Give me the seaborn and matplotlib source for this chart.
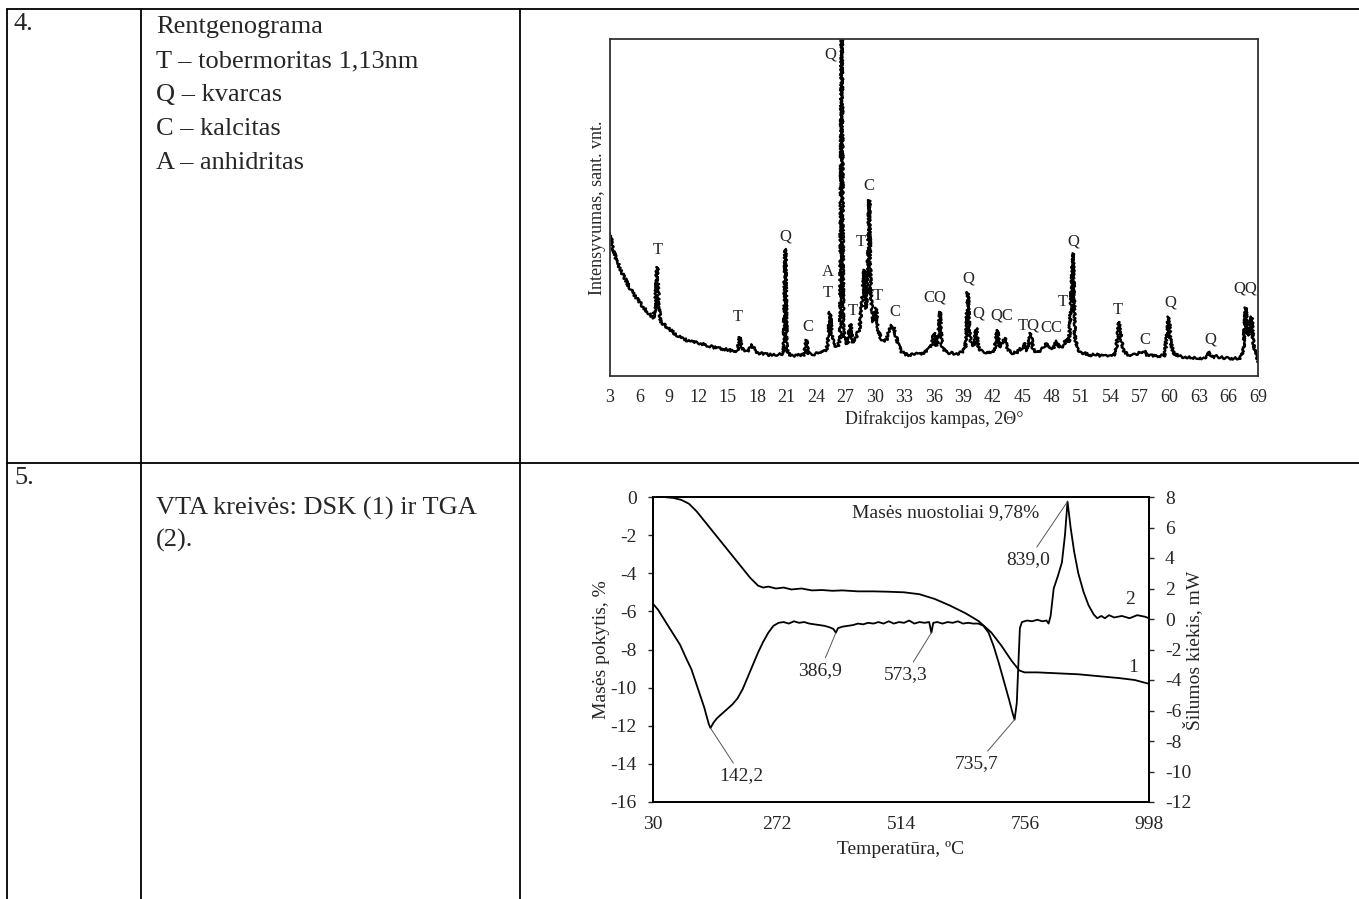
import matplotlib
matplotlib.use("Agg")
import matplotlib.pyplot as plt
import seaborn as sns
from matplotlib.lines import Line2D

sns.set_theme(style="white")
plt.rcParams["font.family"] = ["Liberation Serif", "DejaVu Serif"]
plt.rcParams["axes.unicode_minus"] = False

# ---- XRD pattern (2theta, relative intensity 0..1000 = frame height) ----
xrd_angle = [3.0, 3.3, 3.6, 4.0, 4.5, 5.0, 5.5, 6.0, 6.5, 7.0, 7.4, 7.6, 7.8, 8.0, 8.2, 8.6,
             9.0, 9.5, 10.0, 10.5, 11.0, 11.5, 12.0, 12.5, 13.0, 13.5, 14.0, 14.5, 15.0, 15.5,
             16.0, 16.2, 16.4, 17.0, 17.5, 17.8, 18.5, 19.0, 19.5, 20.0, 20.5, 20.7, 20.85,
             21.0, 21.3, 21.8, 22.3, 22.8, 23.0, 23.2, 23.6, 24.0, 24.5, 25.0, 25.2, 25.4,
             25.6, 25.8, 26.2, 26.45, 26.6, 26.75, 26.9, 27.2, 27.5, 27.7, 28.0, 28.4, 28.7,
             28.9, 29.1, 29.25, 29.4, 29.55, 29.8, 30.1, 30.3, 30.6, 30.9, 31.2, 31.5, 31.7,
             31.9, 32.2, 32.6, 33.0, 33.5, 34.0, 34.5, 35.0, 35.5, 35.8, 36.0, 36.2, 36.4,
             36.6, 36.8, 37.2, 37.8, 38.3, 38.8, 39.2, 39.45, 39.6, 39.8, 40.1, 40.3, 40.5,
             40.9, 41.4, 41.9, 42.2, 42.45, 42.7, 42.95, 43.2, 43.5, 44.0, 44.5, 45.0, 45.25,
             45.5, 45.85, 46.1, 46.5, 47.0, 47.4, 47.7, 48.1, 48.5, 48.8, 49.2, 49.5, 49.75,
             49.95, 50.15, 50.35, 50.6, 51.0, 51.5, 52.0, 52.5, 53.0, 53.5, 54.0, 54.5, 54.85,
             55.1, 55.4, 56.0, 56.6, 57.0, 57.4, 57.7, 58.2, 58.8, 59.5, 59.9, 60.1, 60.4,
             61.0, 61.6, 62.2, 62.8, 63.4, 63.9, 64.05, 64.3, 64.8, 65.4, 66.0, 66.6, 67.2,
             67.5, 67.75, 67.95, 68.1, 68.35, 68.55, 68.8, 69.0]
xrd_intensity = [424, 380, 350, 320, 290, 262, 240, 220, 200, 185, 172, 200, 323, 200, 160, 150,
                 140, 128, 118, 110, 104, 100, 98, 95, 90, 86, 82, 80, 78, 74,
                 76, 115, 82, 72, 92, 70, 66, 64, 62, 63, 66, 75, 377,
                 80, 62, 60, 62, 64, 107, 66, 64, 66, 68, 75, 100, 190,
                 120, 90, 88, 110, 1100, 150, 100, 95, 154, 100, 110, 140, 230,
                 315, 200, 300, 522, 250, 160, 202, 140, 110, 100, 110, 140, 150,
                 145, 110, 75, 65, 62, 66, 64, 68, 80, 95, 128, 90, 100,
                 190, 90, 70, 68, 66, 70, 85, 249, 130, 95, 90, 142, 85,
                 72, 70, 68, 85, 136, 85, 95, 113, 80, 68, 72, 85, 98,
                 75, 127, 78, 70, 80, 98, 85, 80, 104, 85, 90, 112, 100,
                 210, 364, 120, 80, 70, 66, 62, 64, 60, 62, 60, 64, 160,
                 100, 70, 60, 65, 70, 75, 62, 60, 58, 62, 176, 100, 68,
                 58, 56, 55, 54, 53, 60, 72, 56, 58, 54, 52, 52, 54,
                 70, 203, 120, 130, 176, 90, 60, 38]
xrd_ticks = list(range(3, 70, 3))

peak_text = ["T", "T", "Q", "C", "A", "T", "Q", "T", "T", "C", "T", "C", "CQ", "Q", "Q",
             "QC", "TQ", "CC", "T", "Q", "T", "C", "Q", "Q", "QQ"]
peak_angle = [7.9, 16.0, 20.9, 23.2, 25.2, 25.2, 25.4, 27.75, 28.5, 29.4, 30.3, 32.0, 36.1,
              39.5, 40.5, 42.9, 45.6, 48.0, 49.1, 50.2, 54.7, 57.5, 60.1, 64.1, 67.7]
peak_level = [374, 175, 415, 145, 309, 246, 953, 193, 398, 564, 237, 190, 234,
              288, 184, 181, 151, 142, 220, 398, 196, 107, 217, 107, 261]

# ---- thermal analysis ----
tga_temp = [30, 50, 70, 85, 100, 115, 130, 145, 160, 175, 190, 205, 220, 235, 245, 255,
            270, 285, 300, 320, 340, 360, 380, 400, 430, 460, 490, 520, 550, 580, 610,
            640, 665, 690, 710, 730, 745, 755, 780, 820, 860, 900, 940, 970, 998]
tga_mass = [0.0, 0.0, -0.05, -0.15, -0.35, -0.75, -1.25, -1.75, -2.25, -2.75, -3.25, -3.75,
            -4.25, -4.65, -4.75, -4.7, -4.8, -4.75, -4.85, -4.8, -4.9, -4.88, -4.92, -4.9,
            -4.95, -4.95, -4.97, -5.0, -5.1, -5.35, -5.7, -6.1, -6.5, -7.1, -7.8, -8.6,
            -9.1, -9.2, -9.2, -9.25, -9.3, -9.4, -9.5, -9.6, -9.8]

dsc_temp = [30, 40, 53, 68, 83, 95, 105, 118, 125, 130, 134, 139, 142.2, 148, 155, 165,
            175, 185, 195, 205, 215, 225, 235, 245, 255, 265, 275, 285, 295, 305, 315,
            325, 335, 345, 355, 365, 375, 382, 386.9, 391, 400, 410, 420, 430, 440, 450,
            460, 470, 480, 490, 500, 510, 520, 530, 540, 550, 560, 569, 573.3, 577, 585,
            595, 605, 615, 625, 635, 645, 655, 665, 675, 685, 695, 705, 715, 725, 732,
            735.7, 740, 743, 746, 750, 760, 770, 780, 790, 798, 802, 806, 812, 820, 828,
            834, 839, 845, 852, 860, 870, 880, 890, 897, 905, 912, 920, 930, 945, 960,
            975, 990, 998]
dsc_heat = [1.0, 0.6, -0.1, -0.9, -1.7, -2.6, -3.3, -4.6, -5.3, -5.8, -6.3, -6.9, -7.15,
            -6.8, -6.5, -6.2, -5.9, -5.6, -5.2, -4.6, -3.8, -3.0, -2.2, -1.5, -0.9, -0.45,
            -0.25, -0.2, -0.3, -0.15, -0.25, -0.2, -0.3, -0.35, -0.4, -0.45, -0.55, -0.65,
            -0.9, -0.6, -0.5, -0.45, -0.4, -0.3, -0.35, -0.25, -0.3, -0.2, -0.3, -0.15, -0.3,
            -0.2, -0.25, -0.1, -0.3, -0.2, -0.25, -0.2, -0.9, -0.25, -0.2, -0.3, -0.2, -0.25,
            -0.15, -0.3, -0.25, -0.3, -0.3, -0.45, -0.9, -1.8, -2.9, -4.1, -5.3, -6.2,
            -6.6, -5.5, -3.0, -0.6, -0.2, -0.1, -0.15, -0.05, -0.15, -0.1, -0.3, 0.2, 2.0,
            2.8, 3.7, 5.5, 7.7, 6.0, 4.4, 3.0, 1.8, 0.9, 0.3, 0.05, 0.2, 0.05, 0.25, 0.1,
            0.2, 0.05, 0.25, 0.15, 0.05]

mark_text = ["142,2", "386,9", "573,3", "735,7", "839,0"]
mark_temp = [142.2, 386.9, 573.3, 735.7, 839.0]
mark_heat = [-7.15, -0.9, -0.9, -6.6, 7.7]

W, H = 1359, 899


def rect(l, t, r, b):
    return [l / W, 1 - b / H, (r - l) / W, (b - t) / H]


def fx(x):
    return x / W


def fy(y):
    return 1 - y / H


fig = plt.figure(figsize=(W / 100, H / 100), dpi=100)

# table grid
grid = [((6.5, 9), (W, 9)), ((6.5, 9), (6.5, H)), ((141, 9), (141, H)),
        ((520, 9), (520, H)), ((6.5, 463), (W, 463))]
for (x0, y0), (x1, y1) in grid:
    fig.add_artist(Line2D([fx(x0), fx(x1)], [fy(y0), fy(y1)], transform=fig.transFigure,
                          color="black", lw=1.3))

tsize = 19
fig.text(fx(14), fy(24), "4.", fontsize=tsize, va="center")
row4 = ["Rentgenograma", "T – tobermoritas 1,13nm", "Q – kvarcas", "C – kalcitas",
        "A – anhidritas"]
for i, line in enumerate(row4):
    fig.text(fx(156), fy(27 + 34 * i), line, fontsize=tsize, va="center")
fig.text(fx(14), fy(478), "5.", fontsize=tsize, va="center")
fig.text(fx(156), fy(508), "VTA kreivės: DSK (1) ir TGA", fontsize=tsize, va="center")
fig.text(fx(156), fy(540), "(2).", fontsize=tsize, va="center")

# ---- XRD chart ----
ax1 = fig.add_axes(rect(610, 39, 1258, 376))
sns.lineplot(x=xrd_angle, y=xrd_intensity, ax=ax1, color="black", lw=1.7,
             estimator=None, sort=False)
ax1.lines[0].set_sketch_params(scale=1.3, length=3, randomness=3)
ax1.set_xlim(3, 69)
ax1.set_ylim(0, 1000)
ax1.set_xticks(xrd_ticks)
ax1.set_yticks([])
ax1.tick_params(axis="x", length=0, pad=9, labelsize=13)
for s in ax1.spines.values():
    s.set_color("#333333")
    s.set_linewidth(1.3)
for t, px, lv in zip(peak_text, peak_angle, peak_level):
    ax1.text(px, lv, t, ha="center", va="center", fontsize=12)
fig.text(fx(598), fy(208), "Intensyvumas, sant. vnt.", rotation=90, ha="center",
         va="center", fontsize=13)
fig.text(fx(934), fy(419), "Difrakcijos kampas, 2Θ°", ha="center", va="center", fontsize=13)

# ---- thermal chart ----
ax2 = fig.add_axes(rect(653, 497, 1149, 802))
ax3 = ax2.twinx()
sns.lineplot(x=tga_temp, y=tga_mass, ax=ax2, color="black", lw=1.3, estimator=None)
sns.lineplot(x=dsc_temp, y=dsc_heat, ax=ax3, color="black", lw=1.3, estimator=None)
ax2.set_xlim(30, 998)
ax2.set_xticks([30, 272, 514, 756, 998])
ax2.set_ylim(-16, 0)
ax2.set_yticks(range(-16, 1, 2))
ax3.set_ylim(-12, 8)
ax3.set_yticks(range(-12, 9, 2))
ax2.tick_params(axis="x", length=0, pad=10, labelsize=14)
ax2.tick_params(axis="y", left=True, direction="out", length=3.6, width=1, pad=8,
                labelsize=14)
ax3.tick_params(axis="y", right=True, direction="out", length=3.6, width=1, pad=8,
                labelsize=14)
for a in (ax2, ax3):
    a.set_xlabel("")
    a.set_ylabel("")
    for s in a.spines.values():
        s.set_color("black")
        s.set_linewidth(1.3)

for lab, t, v, dx, dy in zip(mark_text, mark_temp, mark_heat,
                             [61, -31, -51, -74, -77], [-3.15, -2.5, -2.77, -2.9, -3.83]):
    ax3.annotate(lab, xy=(t, v), xytext=(t + dx, v + dy), ha="center", va="center",
                 fontsize=14,
                 arrowprops=dict(arrowstyle="-", color="#555555", lw=0.7,
                                 shrinkA=1, shrinkB=0))
ax3.text(602, 7.0, "Masės nuostoliai 9,78%", ha="center", va="center", fontsize=14)
ax3.text(961, 1.25, "2", ha="center", va="center", fontsize=14)
ax3.text(967, -3.2, "1", ha="center", va="center", fontsize=14)

fig.text(fx(601), fy(650), "Masės pokytis, %", rotation=90, ha="center", va="center",
         fontsize=14)
fig.text(fx(1193), fy(650), "Šilumos kiekis, mW", rotation=90, ha="center", va="center",
         fontsize=14)
fig.text(fx(901), fy(850), "Temperatūra, ºC", ha="center", va="center", fontsize=14)

fig.savefig("out.png", dpi=100)
